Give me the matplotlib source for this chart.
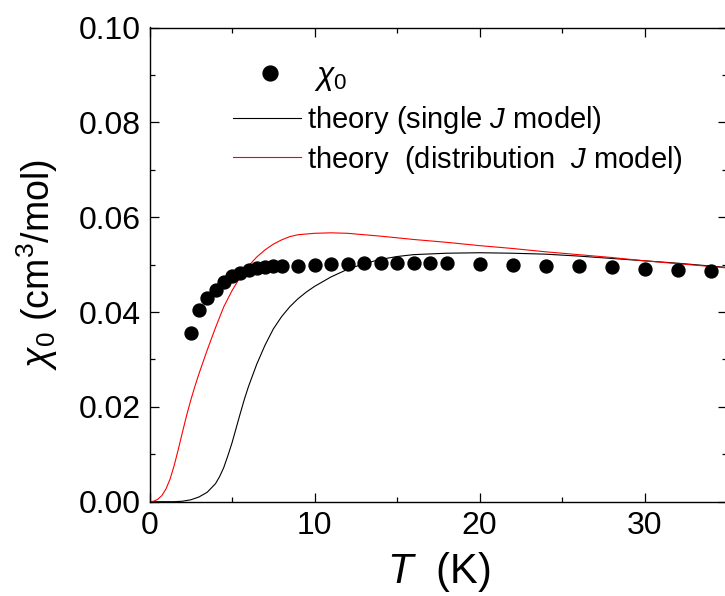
import numpy as np
import matplotlib
matplotlib.use('Agg')
import matplotlib.pyplot as plt
from matplotlib.ticker import MultipleLocator

plt.rcParams['font.family'] = ['Liberation Sans', 'DejaVu Sans']
plt.rcParams['mathtext.fontset'] = 'custom'
plt.rcParams['mathtext.rm'] = 'Liberation Sans'
plt.rcParams['mathtext.it'] = 'Liberation Sans:italic'

# measured chi_0 points
T_data = [2.5, 3.0, 3.5, 4.0, 4.5, 5.0, 5.5, 6.0, 6.5, 7.0, 7.5, 8.0,
          9, 10, 11, 12, 13, 14, 15, 16, 17, 18,
          20, 22, 24, 26, 28, 30, 32, 34]
chi_data = [0.0355, 0.0405, 0.0430, 0.0446, 0.0463, 0.0475, 0.0482, 0.0489, 0.0493, 0.0495, 0.0496, 0.0498,
            0.0498, 0.0500, 0.0502, 0.0502, 0.0504, 0.0504, 0.0504, 0.0504, 0.0503, 0.0503,
            0.0502, 0.0500, 0.0498, 0.0497, 0.0494, 0.0491, 0.0489, 0.0486]

# theory, single J model
T_single = [0, 1.5, 2.0, 2.5, 3.0, 3.5, 4.0, 4.25, 4.5, 4.75, 5.0, 5.25, 5.5, 5.75, 6.0, 6.5, 7.0, 7.5,
            8.0, 8.5, 9.0, 9.5, 10, 11, 12, 13, 14, 15, 16, 18, 20, 22, 24, 26, 28, 30, 32, 34, 35]
chi_single = [0.0, 0.0, 0.0001, 0.0004, 0.0010, 0.0020, 0.0038, 0.0053, 0.0072, 0.0097, 0.0124, 0.0155,
              0.0186, 0.0216, 0.0243, 0.0290, 0.0330, 0.0364, 0.0390, 0.0411, 0.0428, 0.0442, 0.0454,
              0.0474, 0.0490, 0.0502, 0.0511, 0.0517, 0.0521, 0.0524, 0.0525, 0.0524, 0.0522, 0.0518,
              0.0513, 0.0508, 0.0503, 0.0497, 0.0494]

# theory, distribution J model
T_dist = [0, 0.25, 0.5, 0.75, 1.0, 1.25, 1.5, 1.75, 2.0, 2.25, 2.5, 2.75, 3.0, 3.5, 4.0, 4.5, 5.0, 5.5,
          6.0, 6.5, 7.0, 7.5, 8.0, 8.5, 9.0, 10, 11, 12, 13, 14, 16, 18, 20, 22, 24, 26, 28, 30, 32, 34, 35]
chi_dist = [0.0, 0.0001, 0.0005, 0.0013, 0.0027, 0.0048, 0.0077, 0.0111, 0.0147, 0.0182, 0.0214, 0.0243,
            0.0270, 0.0320, 0.0367, 0.0411, 0.0445, 0.0474, 0.0497, 0.0516, 0.0531, 0.0543, 0.0552,
            0.0559, 0.0563, 0.0566, 0.0567, 0.0566, 0.0563, 0.0560, 0.0553, 0.0547, 0.0540, 0.0534,
            0.0527, 0.0521, 0.0515, 0.0508, 0.0502, 0.0496, 0.0493]

fig = plt.figure(figsize=(7.25, 5.96), dpi=100)
ax = fig.add_axes([149.5 / 725, 94.3 / 596, 577.5 / 725, 474.2 / 596])

pts, = ax.plot(T_data, chi_data, 'o', color='black', markersize=9.3, label=r'$\chi_0$', zorder=3)
l1, = ax.plot(T_single, chi_single, '-', color='black', lw=0.8, label=r'theory (single $J$ model)')
l2, = ax.plot(T_dist, chi_dist, '-', color='red', lw=0.8, label=r'theory  (distribution  $J$ model)')

ax.set_xlim(0, 35)
ax.set_ylim(0, 0.10)
ax.xaxis.set_major_locator(MultipleLocator(10))
ax.xaxis.set_minor_locator(MultipleLocator(5))
ax.yaxis.set_major_locator(MultipleLocator(0.02))
ax.yaxis.set_minor_locator(MultipleLocator(0.01))
ax.yaxis.set_major_formatter(plt.FormatStrFormatter('%.2f'))

ax.tick_params(which='both', direction='in', top=True, right=True, width=0.9, labelsize=23)
ax.tick_params(which='major', length=6.5)
ax.tick_params(which='minor', length=3.5)
ax.tick_params(axis='x', pad=7)
ax.tick_params(axis='y', pad=6)
for s in ax.spines.values():
    s.set_linewidth(1.0)

ax.set_xlabel(r'$T$  (K)', fontsize=30, labelpad=6)
ax.set_ylabel(r'$\chi_0$ (cm$^3$/mol)', fontsize=27, labelpad=14)

# legend split in two so the rows sit like the original
leg_opts = dict(loc='upper left', frameon=False, handlelength=2.33, handletextpad=0.2,
                borderpad=0, borderaxespad=0)
leg1 = ax.legend(handles=[pts], bbox_to_anchor=(0.1446, 0.93), fontsize=23, markerscale=1.15, **leg_opts)
ax.add_artist(leg1)
ax.legend(handles=[l1, l2], bbox_to_anchor=(0.1446, 0.838), fontsize=21, labelspacing=0.25, **leg_opts)

fig.savefig('out.png', dpi=100)
